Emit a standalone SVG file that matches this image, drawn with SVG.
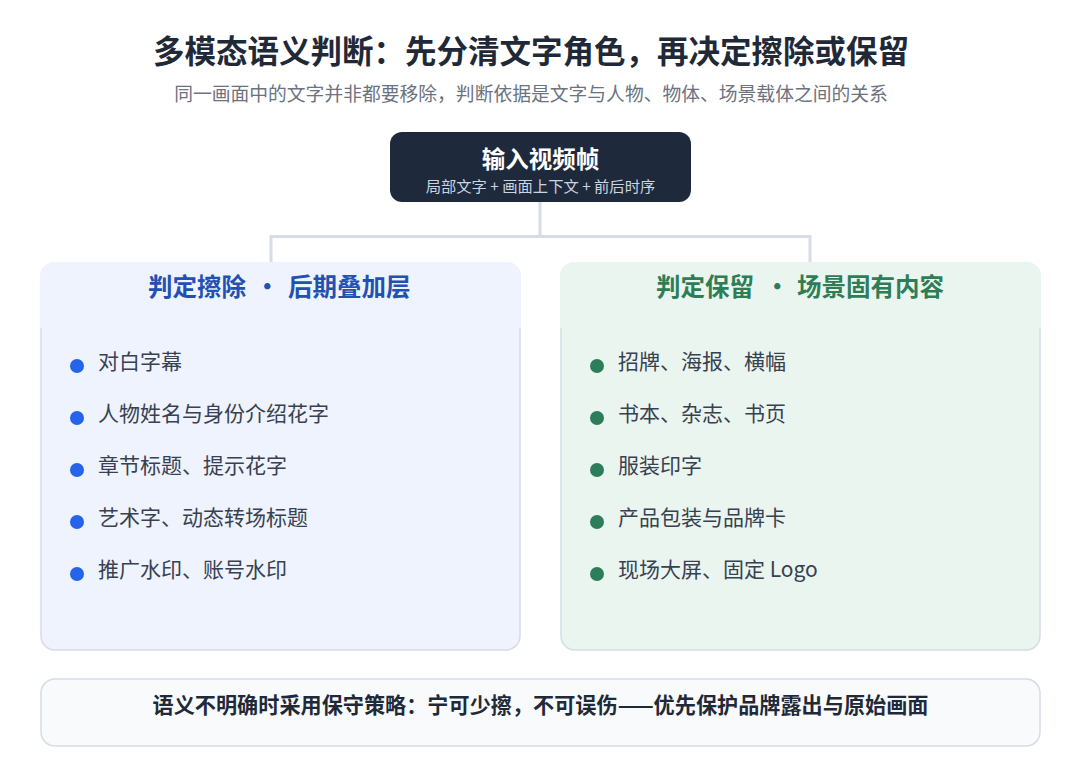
<svg xmlns="http://www.w3.org/2000/svg" width="1080" height="780" viewBox="0 0 1080 780">
<style>
text { font-family: "Noto Sans CJK SC", "Noto Sans", "Liberation Sans", sans-serif; }
.title { font-size: 31.5px; font-weight: 700; fill: #1f2937; }
.sub { font-size: 18.8px; fill: #6b7280; }
.item { font-size: 21px; fill: #374151; }
.conn { fill: none; stroke: #d6dde7; stroke-width: 3; }
.card { stroke: #d6dce6; stroke-width: 1.5; }
.hdrL { font-size: 24.5px; font-weight: 700; fill: #2350b3; }
.hdrR { font-size: 24.5px; font-weight: 700; fill: #2e7d56; }
.dotL { fill: #2563eb; }
.dotR { fill: #2e7d5a; }
</style>
<rect width="1080" height="780" fill="#ffffff"/>
<g id="title">
<text class="title" x="531" y="63" text-anchor="middle">多模态语义判断：先分清文字角色，再决定擦除或保留</text>
<text class="sub" x="531" y="101" text-anchor="middle">同一画面中的文字并非都要移除，判断依据是文字与人物、物体、场景载体之间的关系</text>
</g>
<g id="connectors">
<path class="conn" d="M540 202 V236.5 M271 263 V236.5 H810 V263"/>
</g>
<g id="input">
<rect x="390" y="132" width="301" height="70" rx="12" fill="#1e293b"/>
<text x="540.5" y="168" text-anchor="middle" font-size="23.5" font-weight="700" fill="#ffffff">输入视频帧</text>
<text x="540.5" y="192" text-anchor="middle" font-size="15.3" fill="#cbd5e1" xml:space="preserve">局部文字 + 画面上下文 + 前后时序</text>
</g>
<g id="erase">
<rect class="card" x="41" y="263" width="479" height="387" rx="14" fill="#eef3fd"/>
<path d="M40 328 V277 A14 14 0 0 1 54 262 H507 A14 14 0 0 1 521 277 V328 Z" fill="#eef3fd"/>
<text class="hdrL" y="296"><tspan x="148">判定擦除</tspan><tspan x="255">·</tspan><tspan x="288">后期叠加层</tspan></text>
<circle class="dotL" cx="77" cy="366" r="7"/>
<text class="item" x="98" y="369">对白字幕</text>
<circle class="dotL" cx="77" cy="418" r="7"/>
<text class="item" x="98" y="421">人物姓名与身份介绍花字</text>
<circle class="dotL" cx="77" cy="470" r="7"/>
<text class="item" x="98" y="473">章节标题、提示花字</text>
<circle class="dotL" cx="77" cy="522" r="7"/>
<text class="item" x="98" y="525">艺术字、动态转场标题</text>
<circle class="dotL" cx="77" cy="574" r="7"/>
<text class="item" x="98" y="577">推广水印、账号水印</text>
</g>
<g id="keep">
<rect class="card" x="561" y="263" width="479" height="387" rx="14" fill="#ebf5ef"/>
<path d="M560 328 V277 A14 14 0 0 1 574 262 H1027 A14 14 0 0 1 1041 277 V328 Z" fill="#ebf5ef"/>
<text class="hdrR" y="296"><tspan x="656">判定保留</tspan><tspan x="765">·</tspan><tspan x="797">场景固有内容</tspan></text>
<circle class="dotR" cx="597" cy="366" r="7"/>
<text class="item" x="618" y="369">招牌、海报、横幅</text>
<circle class="dotR" cx="597" cy="418" r="7"/>
<text class="item" x="618" y="421">书本、杂志、书页</text>
<circle class="dotR" cx="597" cy="470" r="7"/>
<text class="item" x="618" y="473">服装印字</text>
<circle class="dotR" cx="597" cy="522" r="7"/>
<text class="item" x="618" y="525">产品包装与品牌卡</text>
<circle class="dotR" cx="597" cy="574" r="7"/>
<text class="item" x="618" y="577">现场大屏、固定 Logo</text>
</g>
<g id="note">
<rect x="41" y="679" width="999" height="67" rx="14" fill="#f8fafc" stroke="#d6dce6" stroke-width="1.5"/>
<text x="540.5" y="713" text-anchor="middle" font-size="21.15" font-weight="700" fill="#1f2937">语义不明确时采用保守策略：宁可少擦，不可误伤——优先保护品牌露出与原始画面</text>
</g>
</svg>
